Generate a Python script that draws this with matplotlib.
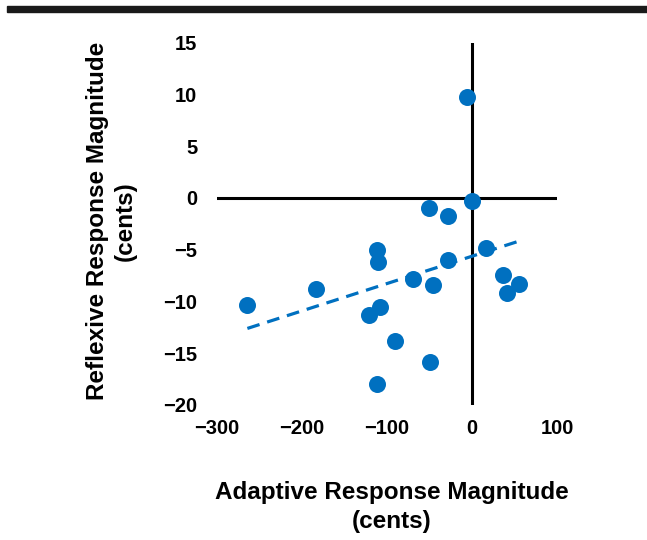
import matplotlib.pyplot as plt
import numpy as np
from matplotlib.patches import Rectangle

plt.rcParams['font.family'] = ['Liberation Sans', 'DejaVu Sans']
plt.rcParams['font.weight'] = 'bold'

# adaptive vs reflexive response magnitude (cents)
adaptive = [-50.2, -27.9, 0.4, -6.2, -112, -111, 16.5, -27.9, -69, -45.5,
            37, 40.8, 55.7, -183.5, -264, -108, -120.8, -90.6, -49.4, -111.4]
reflexive = [-1.0, -1.74, -0.3, 9.78, -5.03, -6.2, -4.87, -6.0, -7.8, -8.4,
             -7.45, -9.2, -8.3, -8.75, -10.35, -10.5, -11.3, -13.8, -15.8, -18.0]

xticks = [-300, -200, -100, 0, 100]
yticks = [-20, -15, -10, -5, 0, 5, 10, 15]

fig = plt.figure(figsize=(6.47, 5.4), dpi=100)
ax = fig.add_axes([0.335, 0.25, 0.526, 0.671])

# black bar at the top
fig.patches.append(Rectangle((0.011, 0.978), 0.989, 0.011, transform=fig.transFigure,
                             color='#1a1a1a', zorder=0))

ax.axhline(0, color='black', lw=2.2, zorder=1)
ax.axvline(0, color='black', lw=2.2, zorder=1)

ax.scatter(adaptive, reflexive, s=150, color='#0070C0', zorder=3, linewidths=0)

# linear trendline
m, b = np.polyfit(adaptive, reflexive, 1)
xs = np.array([min(adaptive), max(adaptive)])
ax.plot(xs, m * xs + b, '--', color='#0070C0', lw=2.3, dashes=(4, 2.5), zorder=2)

ax.set_xlim(-300, 100)
ax.set_ylim(-20, 15)
ax.set_xticks(xticks)
ax.set_yticks(yticks)
for s in ax.spines.values():
    s.set_visible(False)
ax.tick_params(length=0, labelsize=14.5)
ax.tick_params(axis='y', pad=14)
ax.tick_params(axis='x', pad=10)

ax.set_xlabel('Adaptive Response Magnitude\n(cents)', fontsize=17.5, fontweight='bold',
              linespacing=1.35)
ax.xaxis.set_label_coords(0.515, -0.21)
ax.set_ylabel('Reflexive Response Magnitude\n(cents)', fontsize=17.5, fontweight='bold',
              linespacing=1.3)
ax.yaxis.set_label_coords(-0.234, 0.507)

fig.savefig('out.png', dpi=100)
